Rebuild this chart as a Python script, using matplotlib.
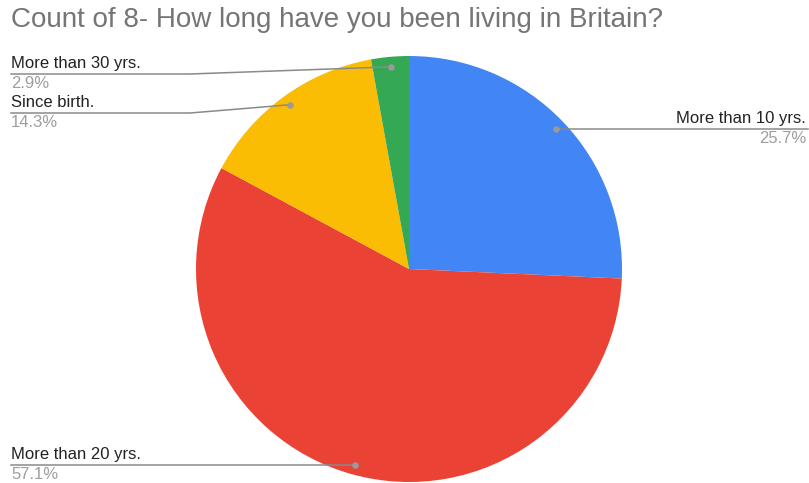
import numpy as np
import matplotlib
matplotlib.use("Agg")
import matplotlib.pyplot as plt

plt.rcParams['font.family'] = ['Liberation Sans', 'DejaVu Sans']

W, H = 809, 483

title = "Count of 8- How long have you been living in Britain?"
categories = ["More than 10 yrs.", "More than 20 yrs.", "Since birth.", "More than 30 yrs."]
counts = [9, 20, 5, 1]
colors = ["#4285F4", "#EA4335", "#FBBC04", "#34A853"]

fig = plt.figure(figsize=(W / 100, H / 100), dpi=100)
ax = fig.add_axes([0, 0, 1, 1])


def Y(py):
    return H - py


cx, cy, r = 409, Y(269), 213
wedges, _ = ax.pie(counts, colors=colors, startangle=90, counterclock=False,
                   center=(cx, cy), radius=r, frame=True,
                   wedgeprops=dict(linewidth=0))
ax.set_xlim(0, W)
ax.set_ylim(0, H)
ax.set_aspect('equal')
ax.axis('off')

total = sum(counts)
pcts = [100 * c / total for c in counts]

# leader anchor points inside each slice
anchors = []
for w in wedges:
    mid = np.deg2rad((w.theta1 + w.theta2) / 2)
    anchors.append((cx + 0.953 * r * np.cos(mid), cy + 0.953 * r * np.sin(mid)))

line_kw = dict(color="#8a8a8a", lw=1.1, zorder=3)
dot_kw = dict(s=22, color="#9a9a9a", zorder=4, linewidths=0)
lab_kw = dict(fontsize=12, color="#222222")
pct_kw = dict(fontsize=12, color="#9e9e9e")

# right-side label
ax_, ay_ = anchors[0]
ax.plot([ax_, 808], [ay_, ay_], **line_kw)
ax.scatter([ax_], [ay_], **dot_kw)
ax.text(806, ay_ + 3, categories[0], ha='right', va='bottom', **lab_kw)
ax.text(806, ay_ - 2, f"{pcts[0]:.1f}%", ha='right', va='top', **pct_kw)

# left-side labels: (index, label line y in pixels, bend x)
left = [(1, None, None), (2, 113, 190), (3, 74, 190)]
for i, ly, bx in left:
    px, py = anchors[i]
    if ly is None:
        yl = py
        ax.plot([11, px], [yl, yl], **line_kw)
    else:
        yl = Y(ly)
        ax.plot([11, bx, px], [yl, yl, py], **line_kw)
    ax.scatter([px], [py], **dot_kw)
    ax.text(11, yl + 3, categories[i], ha='left', va='bottom', **lab_kw)
    ax.text(11, yl - 2, f"{pcts[i]:.1f}%", ha='left', va='top', **pct_kw)

ax.text(11, Y(20), title, ha='left', va='center', fontsize=20, color="#757575")

fig.savefig("out.png", dpi=100)
